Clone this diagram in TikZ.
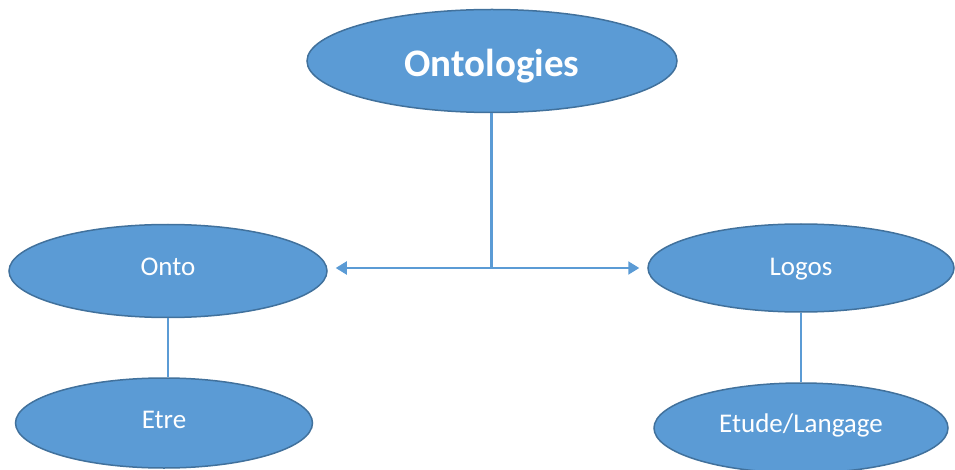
\documentclass[tikz,border=0pt]{standalone}
\usepackage{fontspec}
\setmainfont{Carlito}
\usetikzlibrary{shapes.geometric,arrows.meta}
\definecolor{bubble}{HTML}{5B9BD5}
\definecolor{bubbleedge}{HTML}{41719C}
\definecolor{wire}{HTML}{5B9BD5}
\tikzset{
  bubblenode/.style={ellipse, draw=bubbleedge, line width=1.5pt, fill=bubble,
    text=white, inner sep=0pt, text height=18pt, text depth=8pt,
    font=\fontsize{27}{30}\selectfont},
  wirethin/.style={draw=wire, line width=1.3pt},
  wirethick/.style={draw=wire, line width=3pt},
  wirearrow/.style={draw=wire, line width=2pt,
    -{Triangle[length=11pt,width=13pt]}, shorten >=8pt},
}
\begin{document}
\begin{tikzpicture}[x=1pt,y=-1pt]
  \useasboundingbox (0,0) rectangle (955,470);
  % main concept
  \node[bubblenode, minimum width=370pt, minimum height=103pt,
        text height=33pt, text depth=2pt,
        font=\fontsize{39}{44}\selectfont\bfseries] (onto-logies) at (492,61) {Ontologies};
  % the two roots
  \node[bubblenode, minimum width=318pt, minimum height=93pt] (onto) at (168,271) {Onto};
  \node[bubblenode, minimum width=306pt, minimum height=88pt, text depth=4pt] (logos) at (801,268) {Logos};
  % their meanings
  \node[bubblenode, minimum width=297pt, minimum height=90pt] (etre) at (164,423) {Etre};
  \node[bubblenode, minimum width=294pt, minimum height=90pt, text depth=9pt] (etude) at (801,428) {Etude/Langage};
  % branching connector
  \coordinate (split) at (491,268);
  \draw[wirethick] (onto-logies.south -| split) -- (split);
  \draw[wirearrow] (split) -- (split -| onto.east);
  \draw[wirearrow] (split) -- (split -| logos.west);
  % links to meanings
  \draw[wirethin] (onto.south) -- (onto.south |- etre.north);
  \draw[wirethin] (logos.south) -- (logos.south |- etude.north);
\end{tikzpicture}
\end{document}
